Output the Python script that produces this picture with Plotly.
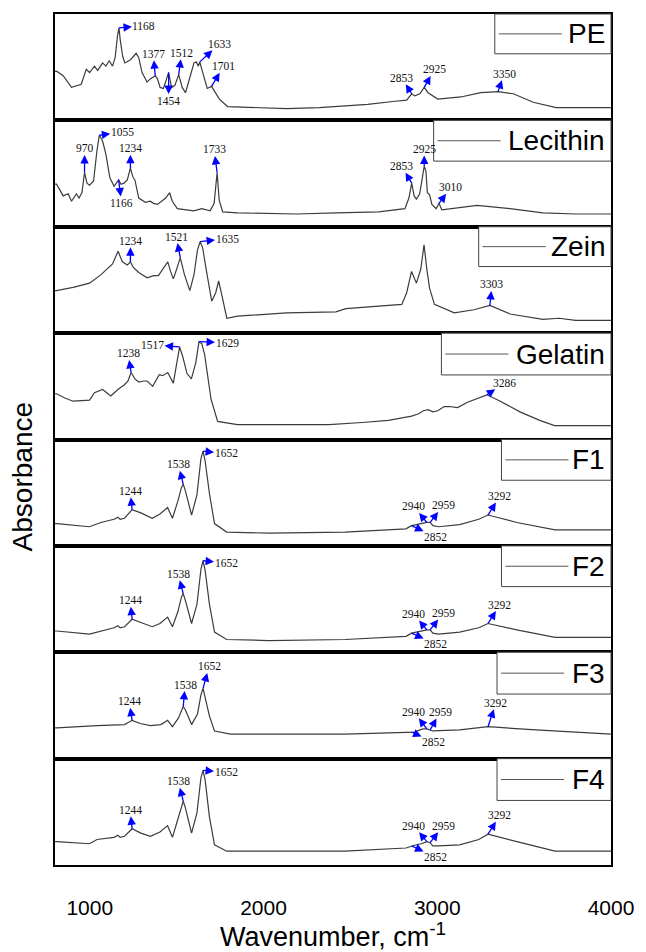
import numpy as np
import plotly.graph_objects as go
from plotly.subplots import make_subplots

# ---------------- FTIR spectra (wavenumber in cm-1, absorbance in panel units) ----------------
samples = ["PE", "Lecithin", "Zein", "Gelatin", "F1", "F2", "F3", "F4"]

pe_wn = [800, 811, 847, 895, 951, 980, 999, 1027, 1046, 1074, 1093, 1112, 1131, 1146, 1160, 1168,
         1176, 1190, 1202, 1235, 1267, 1282, 1301, 1330, 1348, 1377, 1390, 1405, 1424, 1454, 1471,
         1490, 1512, 1532, 1551, 1576, 1600, 1613, 1625, 1633, 1661, 1676, 1701, 1717, 1746, 1793,
         1944, 2133, 2321, 2417, 2600, 2757, 2824, 2853, 2871, 2900, 2925, 2947, 3003, 3136, 3250,
         3350, 3438, 3552, 3684, 3850, 4000]
pe_abs = [0.46, 0.46, 0.42, 0.31, 0.34, 0.48, 0.45, 0.51, 0.47, 0.54, 0.51, 0.56, 0.51, 0.59, 0.80, 0.87,
          0.75, 0.60, 0.54, 0.57, 0.63, 0.59, 0.45, 0.36, 0.39, 0.42, 0.39, 0.31, 0.30, 0.45, 0.31,
          0.33, 0.43, 0.31, 0.26, 0.40, 0.54, 0.55, 0.51, 0.55, 0.40, 0.30, 0.32, 0.28, 0.20, 0.13,
          0.12, 0.11, 0.12, 0.13, 0.15, 0.18, 0.19, 0.25, 0.23, 0.25, 0.31, 0.26, 0.20, 0.22, 0.26,
          0.27, 0.25, 0.17, 0.12, 0.12, 0.12]

lec_wn = [800, 809, 847, 876, 895, 923, 938, 955, 970, 984, 999, 1022, 1041, 1055, 1070, 1078, 1093,
          1116, 1140, 1166, 1180, 1197, 1216, 1234, 1250, 1260, 1282, 1320, 1348, 1367, 1390, 1437,
          1460, 1475, 1504, 1598, 1645, 1693, 1716, 1733, 1745, 1765, 1850, 2190, 2417, 2663, 2814,
          2837, 2853, 2867, 2880, 2899, 2925, 2935, 2943, 2956, 2969, 2994, 3010, 3026, 3230, 3419,
          3608, 3800, 4000]
lec_abs = [0.40, 0.40, 0.29, 0.31, 0.24, 0.31, 0.27, 0.32, 0.51, 0.41, 0.39, 0.43, 0.71, 0.86, 0.82,
           0.78, 0.68, 0.46, 0.38, 0.44, 0.40, 0.41, 0.44, 0.55, 0.46, 0.44, 0.27, 0.23, 0.24, 0.22,
           0.21, 0.27, 0.32, 0.24, 0.17, 0.15, 0.17, 0.15, 0.22, 0.51, 0.25, 0.14, 0.13, 0.12, 0.13,
           0.14, 0.17, 0.27, 0.41, 0.29, 0.26, 0.31, 0.57, 0.52, 0.32, 0.30, 0.21, 0.17, 0.22, 0.16,
           0.20, 0.17, 0.13, 0.12, 0.12]

zein_wn = [800, 809, 904, 999, 1065, 1112, 1131, 1150, 1163, 1175, 1188, 1216, 1234, 1250, 1282, 1330,
           1367, 1395, 1420, 1449, 1465, 1481, 1500, 1521, 1545, 1576, 1600, 1620, 1635, 1650, 1670,
           1702, 1725, 1742, 1761, 1789, 1850, 2133, 2417, 2474, 2796, 2824, 2852, 2880, 2905, 2924,
           2940, 2956, 2984, 3098, 3211, 3303, 3419, 3608, 3700, 3797, 4000]
zein_abs = [0.40, 0.40, 0.43, 0.47, 0.55, 0.62, 0.65, 0.72, 0.77, 0.72, 0.67, 0.64, 0.67, 0.62, 0.57,
            0.52, 0.54, 0.54, 0.60, 0.67, 0.58, 0.51, 0.60, 0.71, 0.55, 0.40, 0.55, 0.78, 0.86, 0.80,
            0.60, 0.30, 0.38, 0.49, 0.35, 0.14, 0.16, 0.19, 0.20, 0.23, 0.27, 0.38, 0.58, 0.47, 0.60,
            0.83, 0.60, 0.42, 0.27, 0.19, 0.22, 0.26, 0.18, 0.13, 0.14, 0.12, 0.12]

gel_wn = [800, 809, 857, 904, 999, 1027, 1074, 1121, 1169, 1197, 1220, 1238, 1260, 1282, 1310, 1330,
          1362, 1400, 1420, 1449, 1481, 1500, 1517, 1535, 1560, 1585, 1610, 1629, 1645, 1661, 1698,
          1736, 1850, 2190, 2377, 2568, 2719, 2852, 2890, 2920, 2947, 2975, 3003, 3040, 3070, 3117,
          3174, 3286, 3363, 3476, 3590, 3675, 4000]
gel_abs = [0.43, 0.43, 0.39, 0.36, 0.37, 0.44, 0.47, 0.41, 0.48, 0.51, 0.55, 0.63, 0.57, 0.54, 0.55,
           0.55, 0.50, 0.61, 0.60, 0.63, 0.53, 0.70, 0.87, 0.78, 0.62, 0.57, 0.72, 0.92, 0.90, 0.80,
           0.38, 0.17, 0.14, 0.14, 0.14, 0.16, 0.18, 0.22, 0.24, 0.27, 0.28, 0.26, 0.27, 0.31, 0.31,
           0.30, 0.35, 0.42, 0.36, 0.26, 0.18, 0.13, 0.13]

f1_wn = [800, 811, 998, 1064, 1140, 1162, 1175, 1200, 1244, 1294, 1360, 1404, 1448, 1476, 1507, 1528,
         1538, 1550, 1586, 1617, 1640, 1652, 1664, 1689, 1718, 1788, 2030, 2469, 2820, 2852, 2880,
         2908, 2940, 2959, 2975, 3008, 3129, 3239, 3292, 3458, 3678, 4000]
f1_abs = [0.21, 0.21, 0.18, 0.22, 0.25, 0.27, 0.25, 0.26, 0.34, 0.31, 0.26, 0.30, 0.36, 0.26, 0.42,
          0.55, 0.58, 0.52, 0.29, 0.48, 0.82, 0.89, 0.80, 0.49, 0.21, 0.13, 0.12, 0.13, 0.16, 0.19,
          0.20, 0.21, 0.22, 0.22, 0.19, 0.18, 0.20, 0.25, 0.29, 0.22, 0.15, 0.15]

f2_wn = [800, 811, 998, 1064, 1140, 1162, 1175, 1200, 1244, 1294, 1360, 1404, 1448, 1476, 1507, 1528,
         1538, 1550, 1586, 1617, 1640, 1652, 1664, 1689, 1718, 1788, 2030, 2469, 2820, 2852, 2880,
         2908, 2940, 2959, 2975, 3008, 3129, 3239, 3292, 3458, 3678, 4000]
f2_abs = [0.20, 0.20, 0.17, 0.20, 0.23, 0.25, 0.23, 0.24, 0.31, 0.28, 0.24, 0.27, 0.33, 0.24, 0.38,
          0.52, 0.55, 0.49, 0.27, 0.45, 0.78, 0.86, 0.77, 0.45, 0.19, 0.12, 0.11, 0.12, 0.15, 0.18,
          0.19, 0.20, 0.21, 0.21, 0.18, 0.17, 0.19, 0.23, 0.27, 0.21, 0.14, 0.14]

f3_wn = [800, 811, 1042, 1162, 1200, 1244, 1290, 1349, 1410, 1448, 1476, 1510, 1530, 1538, 1550, 1586,
         1620, 1640, 1652, 1664, 1689, 1718, 1810, 2469, 2843, 2870, 2900, 2919, 2940, 2959, 2974,
         3129, 3230, 3292, 3568, 4000]
f3_abs = [0.29, 0.29, 0.31, 0.32, 0.32, 0.36, 0.33, 0.31, 0.32, 0.36, 0.30, 0.38, 0.47, 0.49, 0.46,
          0.32, 0.42, 0.60, 0.66, 0.58, 0.40, 0.26, 0.23, 0.23, 0.25, 0.25, 0.27, 0.28, 0.28, 0.27,
          0.26, 0.27, 0.29, 0.30, 0.27, 0.23]

f4_wn = [800, 811, 998, 1042, 1140, 1162, 1175, 1200, 1244, 1294, 1349, 1404, 1448, 1476, 1507, 1528,
         1538, 1550, 1586, 1617, 1640, 1652, 1664, 1689, 1718, 1788, 2469, 2820, 2853, 2880, 2908,
         2941, 2959, 2974, 3008, 3129, 3239, 3292, 3458, 3678, 4000]
f4_abs = [0.22, 0.22, 0.20, 0.24, 0.26, 0.28, 0.26, 0.27, 0.34, 0.30, 0.27, 0.31, 0.37, 0.26, 0.43,
          0.56, 0.60, 0.54, 0.30, 0.49, 0.82, 0.89, 0.80, 0.45, 0.19, 0.13, 0.13, 0.16, 0.18, 0.19,
          0.20, 0.22, 0.21, 0.18, 0.18, 0.19, 0.24, 0.29, 0.22, 0.13, 0.13]

# Assigned band positions (cm-1) for each sample
pe_peaks = [1168, 1377, 1454, 1512, 1633, 1701, 2853, 2925, 3350]
lec_peaks = [970, 1055, 1166, 1234, 1733, 2853, 2925, 3010]
zein_peaks = [1234, 1521, 1635, 3303]
gel_peaks = [1238, 1517, 1629, 3286]
f1_peaks = [1244, 1538, 1652, 2852, 2940, 2959, 3292]
f2_peaks = [1244, 1538, 1652, 2852, 2940, 2959, 3292]
f3_peaks = [1244, 1538, 1652, 2852, 2940, 2959, 3292]
f4_peaks = [1244, 1538, 1652, 2852, 2940, 2959, 3292]

x_ticks = [1000, 2000, 3000, 4000]
x_range = [800, 4000]

spectra = [(pe_wn, pe_abs, pe_peaks), (lec_wn, lec_abs, lec_peaks), (zein_wn, zein_abs, zein_peaks),
           (gel_wn, gel_abs, gel_peaks), (f1_wn, f1_abs, f1_peaks), (f2_wn, f2_abs, f2_peaks),
           (f3_wn, f3_abs, f3_peaks), (f4_wn, f4_abs, f4_peaks)]

# ---------------- styling ----------------
# label placement (pixel offset of the label from the band position)
f_offsets = {1244: (-2, -19), 1538: (-5, -20), 1652: (23, 2), 2852: (24, 11),
             2940: (-13, -16), 2959: (13, -17), 3292: (12, -19)}
f3_offsets = {1244: (-3, -19), 1538: (2, -22), 1652: (6, -22), 2852: (22, 10),
              2940: (-13, -17), 2959: (10, -18), 3292: (8, -24)}
label_offsets = [
    {1168: (25, -2), 1377: (-2, -22), 1454: (0, 28), 1512: (3, -22), 1633: (20, -18),
     1701: (12, -20), 2853: (-10, -16), 2925: (10, -18), 3350: (6, -18)},
    {970: (0, -24), 1055: (23, -3), 1166: (3, 23), 1234: (0, -20), 1733: (-3, -23),
     2853: (-10, -17), 2925: (0, -17), 3010: (12, -16)},
    {1234: (0, -21), 1521: (-4, -21), 1635: (27, -3), 3303: (2, -21)},
    {1238: (-3, -19), 1517: (-27, -2), 1629: (28, 1), 3286: (18, -12)},
    f_offsets, f_offsets, f3_offsets, f_offsets,
]
# legend box (left edge and bottom edge as fractions of the panel)
legend_boxes = [(0.791, 0.626), (0.681, 0.617), (0.762, 0.626), (0.695, 0.607),
                (0.803, 0.617), (0.803, 0.617), (0.795, 0.607), (0.795, 0.607)]

PLOT_W = 564  # plot width in px
n = len(samples)
fig = make_subplots(rows=n, cols=1, shared_xaxes=True, vertical_spacing=0)

annotations = []
shapes = []
for i, (name, (wn, ab, peaks)) in enumerate(zip(samples, spectra)):
    k = i + 1
    sfx = "" if k == 1 else str(k)
    fig.add_trace(go.Scatter(x=wn, y=ab, mode="lines", name=name, showlegend=False,
                             line=dict(color="#3c3c3c", width=1.2)), row=k, col=1)

    for p in peaks:
        dx, dy = label_offsets[i][p]
        annotations.append(dict(
            x=p, y=float(np.interp(p, wn, ab)), xref=f"x{sfx}", yref=f"y{sfx}",
            text=str(p), showarrow=True, ax=dx, ay=dy, axref="pixel", ayref="pixel",
            arrowside="start", startarrowhead=2, startarrowsize=1.3, arrowwidth=1.3,
            arrowcolor="#0000ff", startstandoff=0, standoff=0, borderpad=0,
            font=dict(family="Liberation Serif", size=11.5, color="#111111")))

    # legend box with line sample and sample name
    bx, by = legend_boxes[i]
    shapes.append(dict(type="rect", xref=f"x{sfx} domain", yref=f"y{sfx} domain",
                       x0=bx, x1=1, y0=by, y1=1, line=dict(color="#444444", width=1),
                       fillcolor="white", layer="above"))
    ym = (by + 1) / 2
    shapes.append(dict(type="line", xref=f"x{sfx} domain", yref=f"y{sfx} domain",
                       x0=bx + 4 / PLOT_W, x1=bx + 68 / PLOT_W, y0=ym, y1=ym,
                       line=dict(color="#555555", width=1), layer="above"))
    annotations.append(dict(x=1 - 4 / PLOT_W, y=ym, xref=f"x{sfx} domain", yref=f"y{sfx} domain",
                            text=name, showarrow=False, xanchor="right", yanchor="middle",
                            font=dict(family="Liberation Sans", size=28, color="black")))

    fig.update_yaxes(range=[0, 1], showticklabels=False, ticks="", showgrid=False, zeroline=False,
                     showline=True, mirror=True, linecolor="black", linewidth=1.6, row=k, col=1)
    fig.update_xaxes(range=x_range, tickvals=x_ticks, ticks="", showgrid=False, zeroline=False,
                     showline=True, mirror=True, linecolor="black", linewidth=1.6, row=k, col=1)

fig.update_xaxes(showticklabels=True, ticklabelstandoff=23,
                 tickfont=dict(family="Liberation Sans", size=21, color="black"),
                 title=dict(text="Wavenumber, cm<sup>-1</sup>", standoff=2,
                            font=dict(family="Liberation Sans", size=27, color="black")),
                 row=n, col=1)

annotations.append(dict(x=-33 / PLOT_W, y=0.456, xref="paper", yref="paper", text="Absorbance",
                        showarrow=False, textangle=-90, xanchor="center", yanchor="middle",
                        font=dict(family="Liberation Sans", size=28, color="black")))

fig.update_layout(width=646, height=952, margin=dict(l=55, r=27, t=13, b=81),
                  paper_bgcolor="white", plot_bgcolor="white",
                  annotations=annotations, shapes=shapes, showlegend=False)

fig.write_html("out.html")
